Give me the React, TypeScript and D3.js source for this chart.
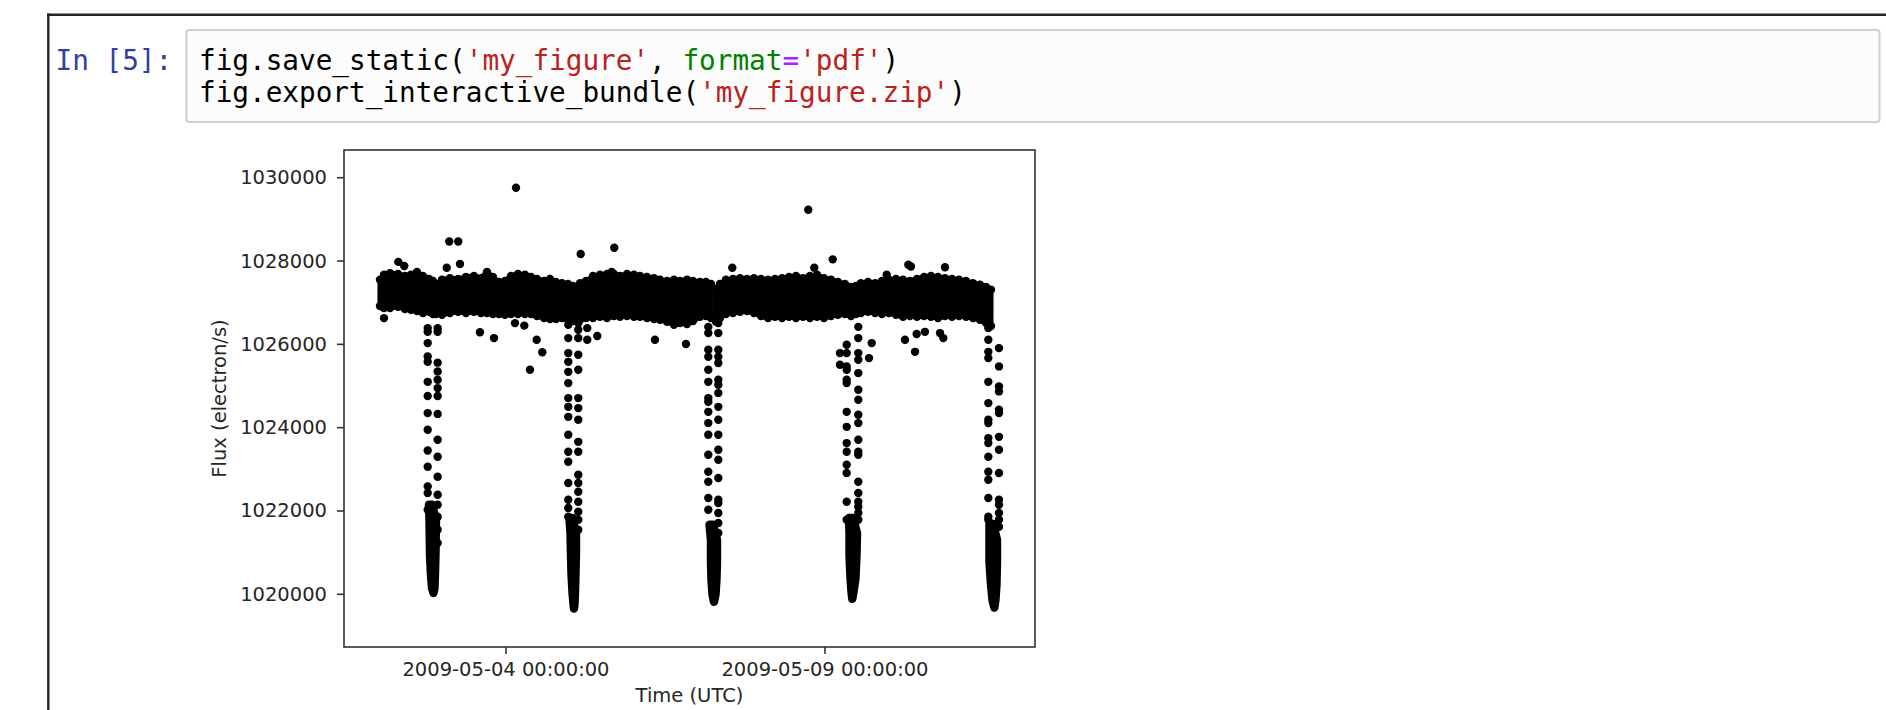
import React from 'react';
import * as d3 from 'd3';

// day 0 = 2009-05-04 00:00 UTC, times below are days from that
const EPOCH = Date.UTC(2009, 4, 4);
const toDate = (d: number) => new Date(EPOCH + d * 864e5);

const fluxTicks = [1020000, 1022000, 1024000, 1026000, 1028000, 1030000];
const timeTicks = [0, 5];

const bandDay = [
  -1.975, -1.912, -1.818, -1.693, -1.583, -1.489, -1.395, -1.301, -1.207, -1.144, null,
  -1.097, -1.003, -0.878, -0.752, -0.627, -0.502, -0.392, -0.298, -0.204, -0.11, -0.016,
  0.078, 0.188, 0.298, 0.392, 0.486, 0.596, 0.69, 0.784, 0.878, 0.972, 1.05, null,
  1.097, 1.16, 1.254, 1.364, 1.473, 1.583, 1.693, 1.787, 1.897, 2.006, 2.1, 2.21, 2.32,
  2.414, 2.524, 2.633, 2.727, 2.837, 2.931, 3.041, 3.135, 3.213, null,
  3.292, 3.354, 3.448, 3.558, 3.668, 3.777, 3.887, 3.997, 4.107, 4.216, 4.326, 4.436,
  4.545, 4.655, 4.765, 4.875, 4.984, 5.094, 5.204, 5.313, 5.408, null,
  5.486, 5.564, 5.674, 5.784, 5.893, 6.003, 6.113, 6.223, 6.332, 6.442, 6.552, 6.661,
  6.771, 6.881, 6.991, 7.1, 7.21, 7.32, 7.429, 7.524, 7.602,
];
const bandHigh = [
  1027550, 1027670, 1027710, 1027690, 1027640, 1027670, 1027740, 1027640, 1027570, 1027520, 0,
  1027450, 1027550, 1027590, 1027570, 1027620, 1027640, 1027590, 1027740, 1027620, 1027500, 1027520,
  1027640, 1027690, 1027670, 1027620, 1027570, 1027520, 1027570, 1027500, 1027470, 1027450, 1027400, 0,
  1027380, 1027470, 1027520, 1027640, 1027670, 1027690, 1027690, 1027640, 1027690, 1027670, 1027640, 1027620, 1027590,
  1027550, 1027520, 1027550, 1027520, 1027550, 1027520, 1027500, 1027500, 1027450, 0,
  1027330, 1027450, 1027550, 1027570, 1027590, 1027570, 1027590, 1027570, 1027550, 1027570, 1027590, 1027620,
  1027640, 1027590, 1027640, 1027670, 1027590, 1027550, 1027500, 1027450, 1027380, 0,
  1027400, 1027470, 1027500, 1027470, 1027520, 1027550, 1027570, 1027550, 1027520, 1027570, 1027620, 1027640,
  1027620, 1027590, 1027570, 1027550, 1027520, 1027470, 1027430, 1027380, 1027310,
];
const bandLow = [
  1026920, 1026870, 1026870, 1026900, 1026850, 1026830, 1026800, 1026750, 1026780, 1026730, 0,
  1026730, 1026710, 1026750, 1026780, 1026750, 1026780, 1026750, 1026750, 1026730, 1026730, 1026710,
  1026730, 1026730, 1026730, 1026730, 1026680, 1026630, 1026610, 1026610, 1026630, 1026590, 1026560, 0,
  1026630, 1026590, 1026630, 1026630, 1026660, 1026630, 1026680, 1026660, 1026680, 1026660, 1026660, 1026630, 1026610,
  1026590, 1026540, 1026470, 1026510, 1026490, 1026560, 1026660, 1026680, 1026630, 0,
  1026540, 1026630, 1026730, 1026750, 1026780, 1026800, 1026750, 1026680, 1026630, 1026660, 1026630, 1026660,
  1026630, 1026660, 1026630, 1026660, 1026630, 1026680, 1026710, 1026730, 1026680, 0,
  1026730, 1026750, 1026780, 1026750, 1026730, 1026750, 1026710, 1026660, 1026680, 1026660, 1026680, 1026660,
  1026630, 1026680, 1026660, 1026680, 1026660, 1026630, 1026590, 1026510, 1026440,
];

// stray points around the band
const outlierDay = [
  -1.912, -1.688, -1.594, -0.929, -0.889, -0.748, -0.721, -0.408, -0.188, 0.141, 0.157,
  0.287, 0.376, 0.481, 0.569, 1.171, 1.274, 1.274, 1.431, 1.657, 1.697, 2.335, 2.821,
  3.547, 4.738, 4.832, 5.121, 5.235, 5.235, 5.69, 5.732, 5.967, 6.254, 6.306, 6.348,
  6.411, 6.437, 6.567, 6.803, 6.854, 6.881,
];
const outlierFlux = [
  1026630, 1027980, 1027880, 1027840, 1028470, 1028470, 1027930, 1026290, 1026150, 1026510, 1029760,
  1026450, 1025390, 1026110, 1025810, 1028170, 1026390, 1026110, 1026200, 1027740, 1028320, 1026110, 1026010,
  1027840, 1029230, 1027840, 1028040, 1025790, 1025510, 1025670, 1026030, 1027670, 1026110, 1027910, 1027870,
  1025820, 1026250, 1026300, 1026270, 1026150, 1027850,
];

// eclipses: ingress / egress columns of points, then the dense core at the bottom
const ingressDay = [-1.227, 0.976, 3.171, 5.34, 7.56];
const egressDay = [-1.071, 1.133, 3.328, 5.522, 7.727];
const ingressFlux = [
  [1026390, 1026300, 1026030, 1025710, 1025580, 1025100, 1024760, 1024350, 1023950, 1023450, 1023060, 1022590, 1022430, 1022030],
  [1026470, 1026150, 1025790, 1025580, 1025340, 1025070, 1024710, 1024500, 1024260, 1023830, 1023420, 1023180, 1022670, 1022270, 1022070, 1021860],
  [1026420, 1026270, 1025870, 1025700, 1025390, 1025100, 1024710, 1024620, 1024380, 1024110, 1023830, 1023350, 1022940, 1022700, 1022310, 1022030],
  [1025990, 1025790, 1025470, 1025390, 1025150, 1025070, 1024380, 1024020, 1023630, 1023420, 1023110, 1022910, 1022220, 1021790],
  [1026390, 1026110, 1025820, 1025670, 1025100, 1024590, 1024190, 1024110, 1023750, 1023630, 1023300, 1022940, 1022750, 1022310, 1021860, 1021790],
];
const egressFlux = [
  [1026390, 1026300, 1025560, 1025350, 1025150, 1024950, 1024760, 1024330, 1023710, 1023300, 1022820, 1022390, 1022150, 1021860, 1021550, 1021230],
  [1026510, 1026350, 1026150, 1025750, 1025390, 1024710, 1024470, 1024190, 1023660, 1023420, 1022870, 1022670, 1022460, 1022220, 1021980, 1021790, 1021550],
  [1026510, 1026270, 1025870, 1025700, 1025550, 1025150, 1025030, 1024830, 1024500, 1024190, 1023830, 1023470, 1023230, 1022790, 1022270, 1022190, 1021950, 1021710, 1021470],
  [1026420, 1026150, 1025790, 1025630, 1025310, 1024910, 1024670, 1024310, 1024110, 1023710, 1023420, 1023350, 1022700, 1022430, 1022220, 1022100, 1021950, 1021790],
  [1025910, 1025470, 1024990, 1024870, 1024430, 1024350, 1023780, 1023470, 1022910, 1022270, 1022150, 1021950, 1021790, 1021620],
];
// core outline: flux level, earliest and latest time at that level
const coreFlux = [
  [1022150, 1021790, 1020950, 1020470, 1020150, 1020030],
  [1021830, 1021470, 1020950, 1020470, 1020060, 1019770, 1019660],
  [1021670, 1021310, 1020780, 1020350, 1019990, 1019820],
  [1021830, 1021470, 1020950, 1020390, 1020060, 1019890],
  [1021690, 1021310, 1020780, 1020230, 1019870, 1019680],
];
const coreStart = [
  [-1.207, -1.199, -1.191, -1.176, -1.16, -1.136],
  [0.995, 1.011, 1.019, 1.027, 1.042, 1.058, 1.066],
  [3.19, 3.213, 3.213, 3.221, 3.237, 3.26],
  [5.376, 5.384, 5.384, 5.4, 5.415, 5.428],
  [7.578, 7.578, 7.578, 7.602, 7.625, 7.654],
];
const coreEnd = [
  [-1.16, -1.097, -1.105, -1.113, -1.121, -1.136],
  [1.042, 1.097, 1.097, 1.089, 1.082, 1.074, 1.066],
  [3.245, 3.307, 3.307, 3.299, 3.284, 3.26],
  [5.439, 5.502, 5.494, 5.478, 5.447, 5.428],
  [7.633, 7.696, 7.696, 7.688, 7.672, 7.654],
];

const MONO = '"DejaVu Sans Mono", monospace';
const SANS = '"DejaVu Sans", sans-serif';

export default function App() {
  const left = 344, right = 1035, top = 150, bottom = 647;
  const x = d3.scaleUtc()
    .domain([new Date(Date.UTC(2009, 4, 1, 11, 4)), new Date(Date.UTC(2009, 4, 12, 7, 0))])
    .range([left, right]);
  const y = d3.scaleLinear().domain([1018735, 1030665]).range([bottom, top]);
  const fmt = d3.utcFormat('%Y-%m-%d %H:%M:%S');
  const R = 4.2;

  const band = d3.area<number>()
    .defined((i) => bandDay[i] !== null)
    .x((i) => x(toDate(bandDay[i] as number)))
    .y0((i) => y(bandLow[i]))
    .y1((i) => y(bandHigh[i]))(d3.range(bandDay.length));

  const cores = coreFlux.map((fl, k) =>
    d3.area<number>()
      .y((i) => y(fl[i]))
      .x0((i) => x(toDate(coreStart[k][i])))
      .x1((i) => x(toDate(coreEnd[k][i])))(d3.range(fl.length))
  );

  const dots: [number, number][] = [];
  // the band edge is made of points too, gives the bumpy outline
  bandDay.forEach((d, i) => {
    if (d === null) return;
    dots.push([d, bandHigh[i]]);
    dots.push([d, bandLow[i]]);
  });
  outlierDay.forEach((d, i) => dots.push([d, outlierFlux[i]]));
  ingressFlux.forEach((fl, k) => fl.forEach((f) => dots.push([ingressDay[k], f])));
  egressFlux.forEach((fl, k) => fl.forEach((f) => dots.push([egressDay[k], f])));

  const tickColor = '#262626';

  return (
    <div style={{ position: 'absolute', left: 0, top: 0 }}>
      <svg width={1886} height={710} style={{ display: 'block', background: '#fff' }}>
        {/* notebook cell chrome */}
        <line x1={47} x2={1886} y1={14.8} y2={14.8} stroke="#262626" strokeWidth={2.4} />
        <line x1={48.3} x2={48.3} y1={13.6} y2={710} stroke="#262626" strokeWidth={2.4} />
        <rect x={186.5} y={30} width={1693} height={92} rx={3} fill="#fcfcfc" stroke="#cfcfcf" strokeWidth={2} />
        <text x={55.5} y={69.5} fontFamily={MONO} fontSize={27.7} fill="#303F9F">In [5]:</text>
        <text x={199} y={69.5} fontFamily={MONO} fontSize={27.7} fill="#000" style={{ whiteSpace: 'pre' }}>
          fig.save_static(<tspan fill="#BA2121">'my_figure'</tspan>, <tspan fill="#008000">format</tspan>
          <tspan fill="#AA22FF">=</tspan><tspan fill="#BA2121">'pdf'</tspan>)
        </text>
        <text x={199} y={101.5} fontFamily={MONO} fontSize={27.7} fill="#000" style={{ whiteSpace: 'pre' }}>
          fig.export_interactive_bundle(<tspan fill="#BA2121">'my_figure.zip'</tspan>)
        </text>

        {/* light curve */}
        <path d={band || ''} fill="#000" stroke="#000" strokeWidth={5} strokeLinejoin="round" />
        {cores.map((p, k) => (
          <path key={k} d={p || ''} fill="#000" stroke="#000" strokeWidth={2 * R} strokeLinejoin="round" strokeLinecap="round" />
        ))}
        {dots.map(([d, f], i) => (
          <circle key={i} cx={x(toDate(d))} cy={y(f)} r={R} fill="#000" />
        ))}

        {/* axes */}
        <rect x={left} y={top} width={right - left} height={bottom - top} fill="none" stroke="#333" strokeWidth={1.6} />
        {fluxTicks.map((v) => (
          <g key={v}>
            <line x1={left - 7} x2={left} y1={y(v)} y2={y(v)} stroke="#333" strokeWidth={1.6} />
            <text x={327} y={y(v)} textAnchor="end" dominantBaseline="central" fontFamily={SANS} fontSize={19.5} fill={tickColor}>
              {v}
            </text>
          </g>
        ))}
        {timeTicks.map((d) => (
          <g key={d}>
            <line x1={x(toDate(d))} x2={x(toDate(d))} y1={bottom} y2={bottom + 7} stroke="#333" strokeWidth={1.6} />
            <text x={x(toDate(d))} y={676} textAnchor="middle" fontFamily={SANS} fontSize={19.5} fill={tickColor}>
              {fmt(toDate(d))}
            </text>
          </g>
        ))}
        <text x={(left + right) / 2} y={702} textAnchor="middle" fontFamily={SANS} fontSize={19.5} fill={tickColor}>
          Time (UTC)
        </text>
        <text transform={`translate(219,${(top + bottom) / 2}) rotate(-90)`} textAnchor="middle" dominantBaseline="central"
          fontFamily={SANS} fontSize={19.5} fill={tickColor}>
          Flux (electron/s)
        </text>
      </svg>
    </div>
  );
}
